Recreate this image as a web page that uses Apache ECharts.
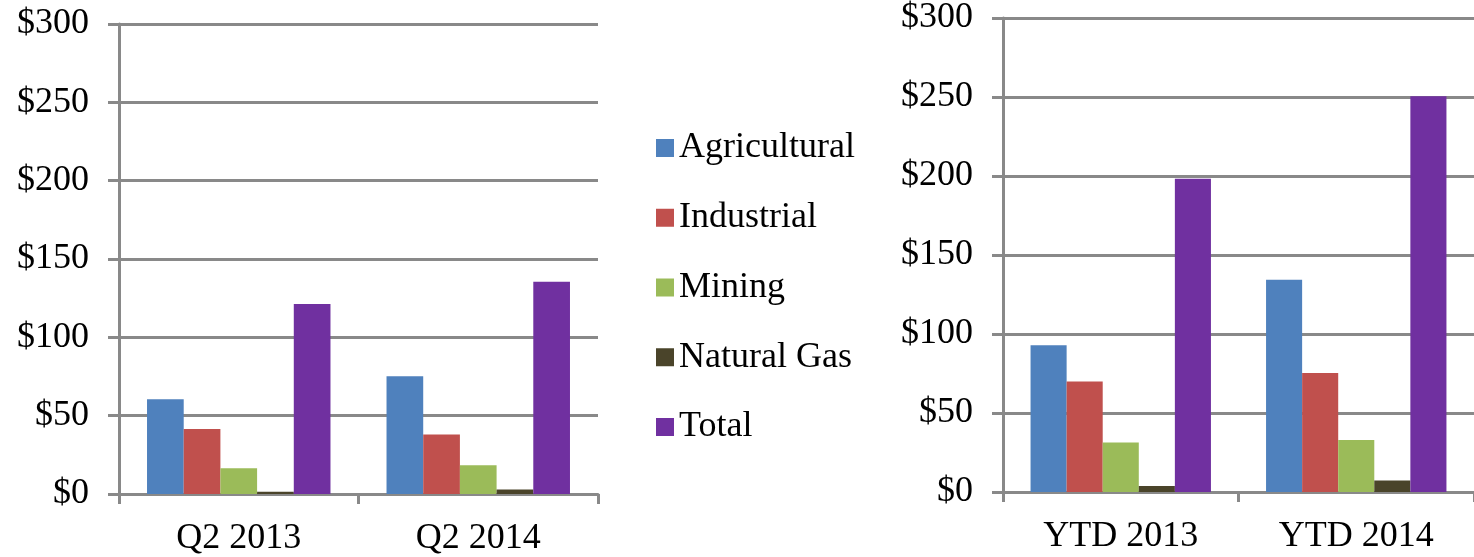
<!DOCTYPE html>
<html>
<head>
<meta charset="utf-8">
<script src="https://cdn.jsdelivr.net/npm/echarts@6/dist/echarts.min.js"></script>
<style>html,body{margin:0;padding:0;background:#fff}#c{width:1474px;height:557px}</style>
</head>
<body>
<div id="c"></div>
<script>
const seriesNames = ['Agricultural', 'Industrial', 'Mining', 'Natural Gas', 'Total'];
const colors = ['#4F81BD', '#C0504D', '#9BBB59', '#4A442A', '#7030A0'];
const quarterCats = ['Q2 2013', 'Q2 2014'];
const ytdCats = ['YTD 2013', 'YTD 2014'];
const agricultural = [60.5, 75.2];
const industrial = [41.5, 37.9];
const mining = [16.5, 18.4];
const naturalGas = [1.4, 2.9];
const total = [121.3, 135.5];
const agriculturalYtd = [92.9, 134.4];
const industrialYtd = [70.0, 75.3];
const miningYtd = [31.3, 32.9];
const naturalGasYtd = [3.8, 7.3];
const totalYtd = [198.2, 250.4];
const yTicks = [0, 50, 100, 150, 200, 250, 300];

const FONT = 'Liberation Serif';
const FS = 36;
const gridColor = '#898989';

const qData = [agricultural, industrial, mining, naturalGas, total];
const yData = [agriculturalYtd, industrialYtd, miningYtd, naturalGasYtd, totalYtd];

function xAxis(cats, idx) {
  return {
    type: 'category', gridIndex: idx, data: cats,
    axisLine: {lineStyle: {color: gridColor, width: 3}},
    axisTick: {show: true, length: 10, lineStyle: {color: gridColor, width: 3}},
    axisLabel: {fontFamily: FONT, fontSize: FS, color: '#000', margin: 27}
  };
}
function yAxis(idx) {
  return {
    type: 'value', gridIndex: idx, min: yTicks[0], max: yTicks[yTicks.length - 1], interval: 50,
    axisLine: {show: true, lineStyle: {color: gridColor, width: 3}},
    axisTick: {show: true, length: 11, lineStyle: {color: gridColor, width: 3}},
    splitLine: {show: true, lineStyle: {color: gridColor, width: 3}},
    axisLabel: {fontFamily: FONT, fontSize: FS, color: '#000', margin: 30,
      formatter: v => '$' + v}
  };
}

const series = [];
seriesNames.forEach((n, i) => {
  series.push({name: n, type: 'bar', xAxisIndex: 0, yAxisIndex: 0, data: qData[i],
    itemStyle: {color: colors[i]}, barGap: '0%', barCategoryGap: '23.4%'});
});
seriesNames.forEach((n, i) => {
  series.push({name: n, type: 'bar', xAxisIndex: 1, yAxisIndex: 1, data: yData[i],
    itemStyle: {color: colors[i]}, barGap: '0%', barCategoryGap: '23.4%'});
});

const chart = echarts.init(document.getElementById('c'));
chart.setOption({
  animation: false,
  backgroundColor: '#fff',
  color: colors,
  grid: [
    {left: 119, width: 479, top: 24, height: 470},
    {left: 1003, width: 479, top: 14, height: 478}
  ],
  legend: {
    orient: 'vertical', left: 651, top: 125,
    data: seriesNames,
    icon: 'rect', itemWidth: 18, itemHeight: 18, itemGap: 33.75,
    textStyle: {fontFamily: FONT, fontSize: FS, color: '#000', lineHeight: 36, padding: [0, 0, 0, 0]},
    selectedMode: false
  },
  xAxis: [xAxis(quarterCats, 0), xAxis(ytdCats, 1)],
  yAxis: [yAxis(0), yAxis(1)],
  series: series
});
</script>
</body>
</html>
